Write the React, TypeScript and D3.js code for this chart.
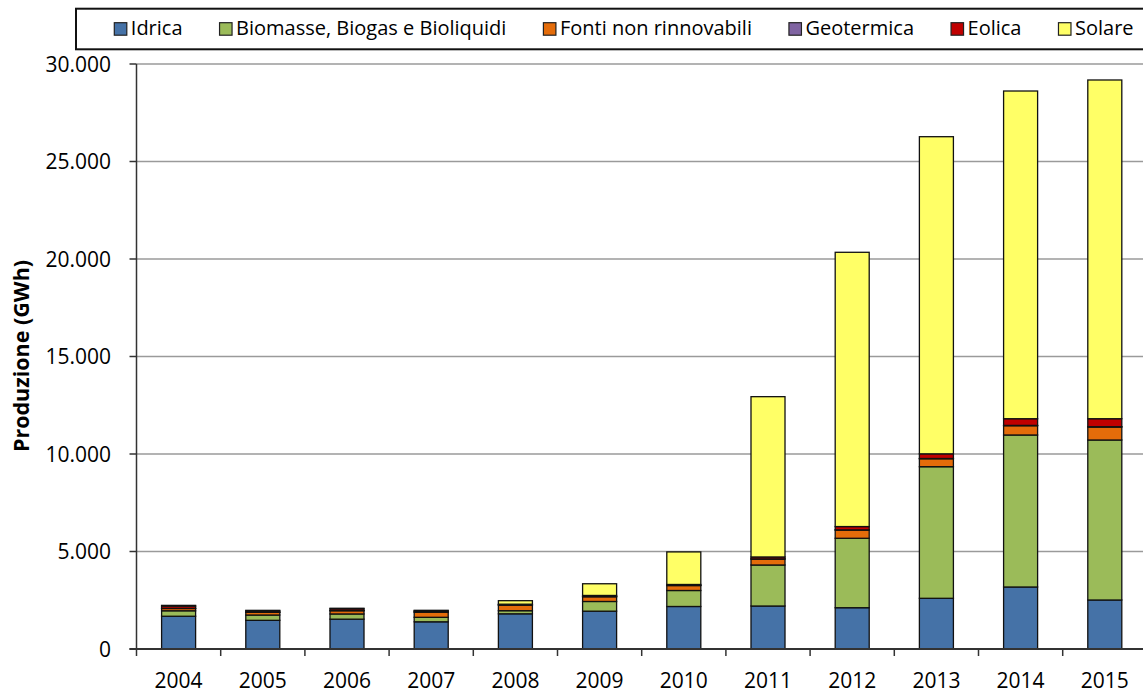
import React, { useEffect, useRef } from "react";
import * as d3 from "d3";

const years = ["2004","2005","2006","2007","2008","2009","2010","2011","2012","2013","2014","2015"];
const seriesNames = ["Idrica", "Biomasse, Biogas e Bioliquidi", "Fonti non rinnovabili", "Geotermica", "Eolica", "Solare"];
const idrica = [1680, 1470, 1530, 1395, 1805, 1940, 2180, 2205, 2118, 2600, 3180, 2513];
const biomasse = [280, 272, 267, 230, 160, 497, 820, 2103, 3560, 6749, 7795, 8205];
const fonti = [120, 138, 170, 270, 290, 246, 256, 308, 426, 410, 477, 667];
const geotermica = [2, 2, 2, 2, 3, 3, 3, 4, 5, 10, 15, 15];
const eolica = [115, 70, 90, 60, 40, 60, 50, 100, 170, 240, 343, 410];
const solare = [40, 30, 30, 27, 180, 600, 1670, 8220, 14065, 16263, 16805, 17370];
const colors = ["#4572A7", "#9BBB59", "#E46C0A", "#8064A2", "#C00000", "#FFFF66"];
const yTicks = [0, 5000, 10000, 15000, 20000, 25000, 30000];
const yTitle = "Produzione (GWh)";

const W = 1143, H = 694;
const FONT = "'Open Sans', sans-serif";

export default function App() {
  const ref = useRef<SVGSVGElement>(null);
  useEffect(() => {
    const svg = d3.select(ref.current);
    svg.selectAll("*").remove();
    const left = 136.5, bandW = 84.2;
    const x = d3.scaleBand<string>().domain(years).range([left, left + bandW * years.length]).paddingInner(0.596).paddingOuter(0.298);
    const y = d3.scaleLinear().domain([0, 30000]).range([649, 64]);

    const allSeries = [idrica, biomasse, fonti, geotermica, eolica, solare];
    const table = years.map((yr, i) => {
      const o: any = { year: yr };
      seriesNames.forEach((s, k) => (o[s] = allSeries[k][i]));
      return o;
    });
    const stacked = d3.stack().keys(seriesNames)(table);

    // gridlines
    svg.append("g").selectAll("line").data(yTicks.filter(t => t > 0)).join("line")
      .attr("x1", left).attr("x2", W).attr("y1", d => y(d)).attr("y2", d => y(d))
      .attr("stroke", "#9a9a9a").attr("stroke-width", 1.5);

    // bars
    const g = svg.append("g");
    stacked.forEach((layer, k) => {
      g.append("g").selectAll("rect").data(layer).join("rect")
        .attr("x", (d: any) => x(d.data.year)!)
        .attr("width", x.bandwidth())
        .attr("y", (d: any) => y(d[1]))
        .attr("height", (d: any) => Math.max(0, y(d[0]) - y(d[1])))
        .attr("fill", colors[k])
        .attr("stroke", "#111").attr("stroke-width", 1.3);
    });

    // axes
    svg.append("line").attr("x1", left).attr("x2", left).attr("y1", 64).attr("y2", 649).attr("stroke", "#333").attr("stroke-width", 1.5);
    svg.append("line").attr("x1", left - 7).attr("x2", W).attr("y1", 649).attr("y2", 649).attr("stroke", "#333").attr("stroke-width", 2);
    svg.append("g").selectAll("line").data(yTicks).join("line")
      .attr("x1", left - 7).attr("x2", left).attr("y1", d => y(d)).attr("y2", d => y(d))
      .attr("stroke", "#333").attr("stroke-width", 1.5);
    const fmt = (v: number) => d3.format(",")(v).replace(/,/g, ".");
    svg.append("g").selectAll("text").data(yTicks).join("text")
      .attr("x", 111).attr("y", d => y(d) + 7.5).attr("text-anchor", "end")
      .attr("font-family", FONT).attr("font-size", 21).attr("fill", "#000").text(d => fmt(d));
    const bounds = years.map((_, i) => left + i * bandW).concat([left + years.length * bandW]);
    svg.append("g").selectAll("line").data(bounds).join("line")
      .attr("x1", d => d).attr("x2", d => d).attr("y1", 649).attr("y2", 656)
      .attr("stroke", "#333").attr("stroke-width", 1.5);
    svg.append("g").selectAll("text").data(years).join("text")
      .attr("x", d => x(d)! + x.bandwidth() / 2).attr("y", 688).attr("text-anchor", "middle")
      .attr("font-family", FONT).attr("font-size", 21).attr("fill", "#000").text(d => d);

    // y title
    svg.append("text").attr("transform", "translate(29,356) rotate(-90)").attr("text-anchor", "middle")
      .attr("font-family", FONT).attr("font-weight", "bold").attr("font-size", 21.5).attr("fill", "#000").text(yTitle);

    // legend
    const lg = svg.append("g");
    lg.append("rect").attr("x", 76).attr("y", 8.7).attr("width", 1100).attr("height", 40.6)
      .attr("fill", "#fff").attr("stroke", "#111").attr("stroke-width", 2);
    let cx = 114.3;
    seriesNames.forEach((s, k) => {
      lg.append("rect").attr("x", cx).attr("y", 22.7).attr("width", 12.5).attr("height", 12.5)
        .attr("fill", colors[k]).attr("stroke", "#222").attr("stroke-width", 1.2);
      const t = lg.append("text").attr("x", cx + 16.5).attr("y", 35.3)
        .attr("font-family", FONT).attr("font-size", 20).attr("fill", "#000").text(s);
      const w = (t.node() as SVGTextElement).getComputedTextLength();
      cx = cx + 16.5 + w + 37;
    });
  }, []);
  return (
    <svg ref={ref} width={W} height={H} style={{ position: "absolute", left: 0, top: 0, background: "#fff" }} />
  );
}
